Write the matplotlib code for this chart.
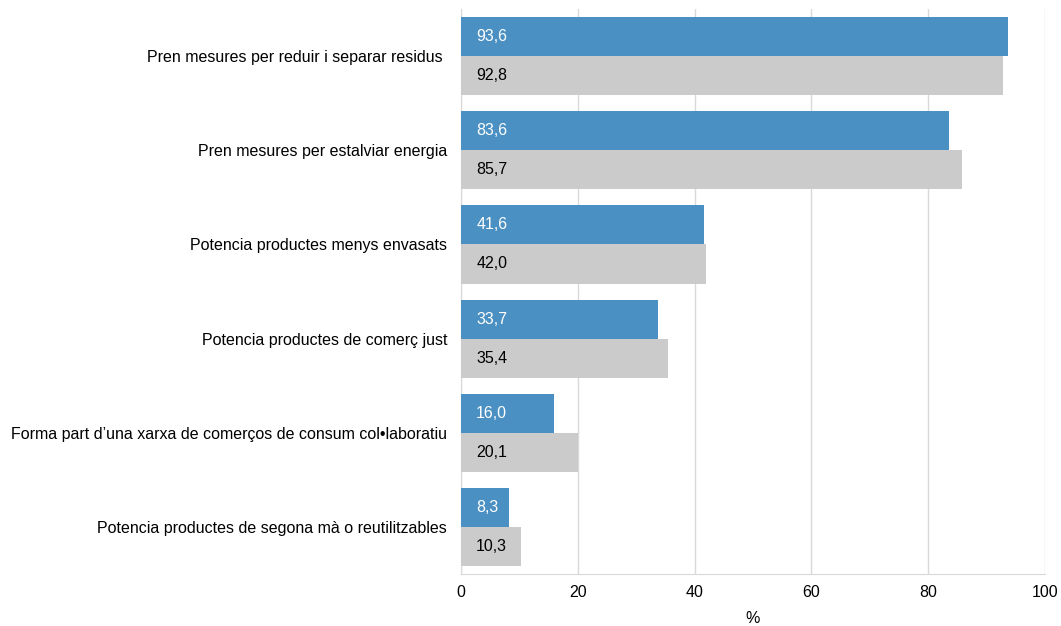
import matplotlib.pyplot as plt
import numpy as np

plt.rcParams['font.family'] = ['Liberation Sans', 'DejaVu Sans']

categories = [
    "Pren mesures per reduir i separar residus ",
    "Pren mesures per estalviar energia",
    "Potencia productes menys envasats",
    "Potencia productes de comerç just",
    "Forma part d’una xarxa de comerços de consum col•laboratiu",
    "Potencia productes de segona mà o reutilitzables",
]
serie_blava = [93.6, 83.6, 41.6, 33.7, 16.0, 8.3]
serie_grisa = [92.8, 85.7, 42.0, 35.4, 20.1, 10.3]
x_ticks = [0, 20, 40, 60, 80, 100]

fig = plt.figure(figsize=(10.61, 6.26), dpi=100)
ax = fig.add_axes([0.4345, 0.083, 0.5505, 0.9026])

y = np.arange(len(categories))
h = 0.415
blue = "#4a90c2"
grey = "#cbcbcb"
fs = 11.5

ax.barh(y - h / 2, serie_blava, height=h, color=blue, zorder=3)
ax.barh(y + h / 2, serie_grisa, height=h, color=grey, zorder=3)

for yi, v in zip(y, serie_blava):
    ax.text(2.6, yi - h / 2, f"{v:.1f}".replace(".", ","), color="white",
            va="center", ha="left", fontsize=fs, zorder=4)
for yi, v in zip(y, serie_grisa):
    ax.text(2.6, yi + h / 2, f"{v:.1f}".replace(".", ","), color="black",
            va="center", ha="left", fontsize=fs, zorder=4)

ax.set_yticks(y)
ax.set_yticklabels(categories, fontsize=fs)
ax.set_ylim(len(categories) - 0.5, -0.5)
ax.set_xlim(0, 100)
ax.set_xticks(x_ticks)
ax.set_xticklabels([str(t) for t in x_ticks], fontsize=fs)
ax.set_xlabel("%", fontsize=fs, labelpad=8)

ax.tick_params(axis="y", length=0, pad=10)
ax.tick_params(axis="x", length=0, pad=8)
ax.grid(axis="x", color="#d9d9d9", linewidth=1, zorder=0)
for s in ["top", "right"]:
    ax.spines[s].set_visible(False)
ax.spines["left"].set_color("#d9d9d9")
ax.spines["bottom"].set_color("#d9d9d9")

fig.savefig("out.png", dpi=100)
